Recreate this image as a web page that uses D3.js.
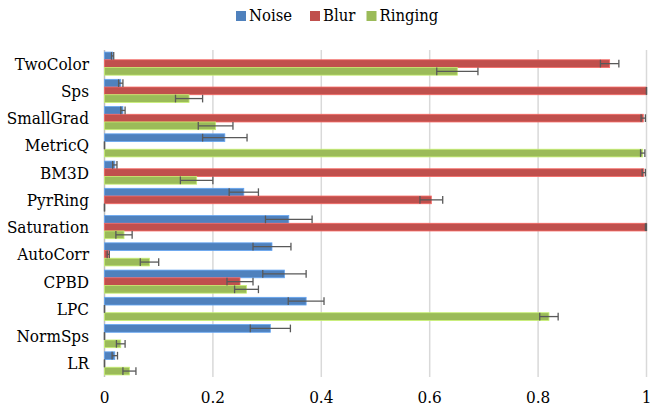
<!DOCTYPE html>
<html>
<head>
<meta charset="utf-8">
<script src="https://cdn.jsdelivr.net/npm/d3@7"></script>
<style>
  html, body { margin: 0; padding: 0; background: #fff; }
  svg { display: block; }
  svg text { font-family: "DejaVu Serif Condensed", "DejaVu Serif"; font-stretch: condensed; }
</style>
</head>
<body>
<svg id="chart" width="667" height="409"></svg>
<script>
// Metric names, top to bottom
const categories = ["TwoColor", "Sps", "SmallGrad", "MetricQ", "BM3D", "PyrRing",
                    "Saturation", "AutoCorr", "CPBD", "LPC", "NormSps", "LR"];
const seriesNames = ["Noise", "Blur", "Ringing"];
const seriesColors = ["#4F81BD", "#C0504D", "#9BBB59"];

// Mean scores per series
const noise   = [0.015, 0.030, 0.034, 0.222, 0.019, 0.257, 0.340, 0.309, 0.332, 0.372, 0.306, 0.019];
const blur    = [0.932, 1.000, 0.994, 0.000, 0.995, 0.603, 1.000, 0.007, 0.250, 0.000, 0.000, 0.000];
const ringing = [0.651, 0.156, 0.205, 0.993, 0.170, 0.000, 0.036, 0.083, 0.262, 0.820, 0.030, 0.046];

// Error-bar half widths per series
const noiseErr   = [0.002, 0.004, 0.004, 0.041, 0.004, 0.027, 0.043, 0.035, 0.040, 0.033, 0.037, 0.005];
const blurErr    = [0.017, 0.000, 0.004, 0.000, 0.003, 0.021, 0.002, 0.002, 0.024, 0.000, 0.000, 0.000];
const ringingErr = [0.038, 0.025, 0.032, 0.004, 0.030, 0.000, 0.015, 0.017, 0.022, 0.017, 0.008, 0.012];

const xTicks = [0, 0.2, 0.4, 0.6, 0.8, 1];

const values = [noise, blur, ringing];
const errors = [noiseErr, blurErr, ringingErr];

const svg = d3.select("#chart");
const plot = { left: 104.5, right: 646.5, top: 50, bottom: 377 };

const x = d3.scaleLinear().domain([0, 1]).range([plot.left, plot.right]);
const y = d3.scaleBand().domain(categories).range([plot.top, plot.bottom]).padding(0);
const ySub = d3.scaleBand().domain(seriesNames).range([0, y.bandwidth()])
  .paddingInner(0).paddingOuter(0.27);

// Vertical gridlines
svg.append("g").selectAll("line")
  .data(xTicks.filter(t => t > 0))
  .join("line")
  .attr("x1", d => x(d)).attr("x2", d => x(d))
  .attr("y1", plot.top).attr("y2", plot.bottom)
  .attr("stroke", "#d9d9d9").attr("stroke-width", 1.5);

// Category axis line
svg.append("line")
  .attr("x1", x(0)).attr("x2", x(0))
  .attr("y1", plot.top).attr("y2", plot.bottom)
  .attr("stroke", "#bfbfbf").attr("stroke-width", 1.5);

// Rows of bars
const rows = [];
categories.forEach((c, i) => {
  seriesNames.forEach((s, j) => {
    rows.push({ cat: c, series: s, color: seriesColors[j], v: values[j][i], e: errors[j][i] });
  });
});

svg.append("g").selectAll("rect")
  .data(rows)
  .join("rect")
  .attr("x", x(0))
  .attr("y", d => y(d.cat) + ySub(d.series))
  .attr("width", d => Math.max(0, x(d.v) - x(0)))
  .attr("height", ySub.bandwidth())
  .attr("fill", d => d.color)
  .attr("stroke", d => d3.color(d.color).brighter(0.7))
  .attr("stroke-width", d => d.v > 0 ? 0.8 : 0);

// Error bars
const eb = svg.append("g").attr("stroke", "#595959").attr("stroke-width", 1.3).attr("fill", "none");
rows.forEach(d => {
  const cy = y(d.cat) + ySub(d.series) + ySub.bandwidth() / 2;
  const h = ySub.bandwidth() / 2;
  const lo = x(Math.max(0, d.v - d.e)), hi = x(Math.min(1, d.v + d.e));
  eb.append("line").attr("x1", lo).attr("x2", hi).attr("y1", cy).attr("y2", cy);
  eb.append("line").attr("x1", lo).attr("x2", lo).attr("y1", cy - h).attr("y2", cy + h);
  eb.append("line").attr("x1", hi).attr("x2", hi).attr("y1", cy - h).attr("y2", cy + h);
});

// Category labels
svg.append("g").selectAll("text")
  .data(categories)
  .join("text")
  .attr("x", 89)
  .attr("y", d => y(d) + y.bandwidth() / 2 + 6)
  .attr("text-anchor", "end")
  .attr("font-size", 17)
  .attr("fill", "#000")
  .text(d => d);

// Value axis tick labels
svg.append("g").selectAll("text")
  .data(xTicks)
  .join("text")
  .attr("x", d => x(d))
  .attr("y", 403)
  .attr("text-anchor", "middle")
  .attr("font-size", 17)
  .attr("fill", "#000")
  .text(d => d3.format("~g")(d));

// Legend
const legendX = [236, 310, 366.5];
const legend = svg.append("g");
seriesNames.forEach((s, j) => {
  legend.append("rect")
    .attr("x", legendX[j]).attr("y", 11).attr("width", 10).attr("height", 10)
    .attr("fill", seriesColors[j]);
  legend.append("text")
    .attr("x", legendX[j] + 13).attr("y", 21)
    .attr("font-size", 16.5)
    .attr("fill", "#000")
    .text(s);
});
</script>
</body>
</html>
